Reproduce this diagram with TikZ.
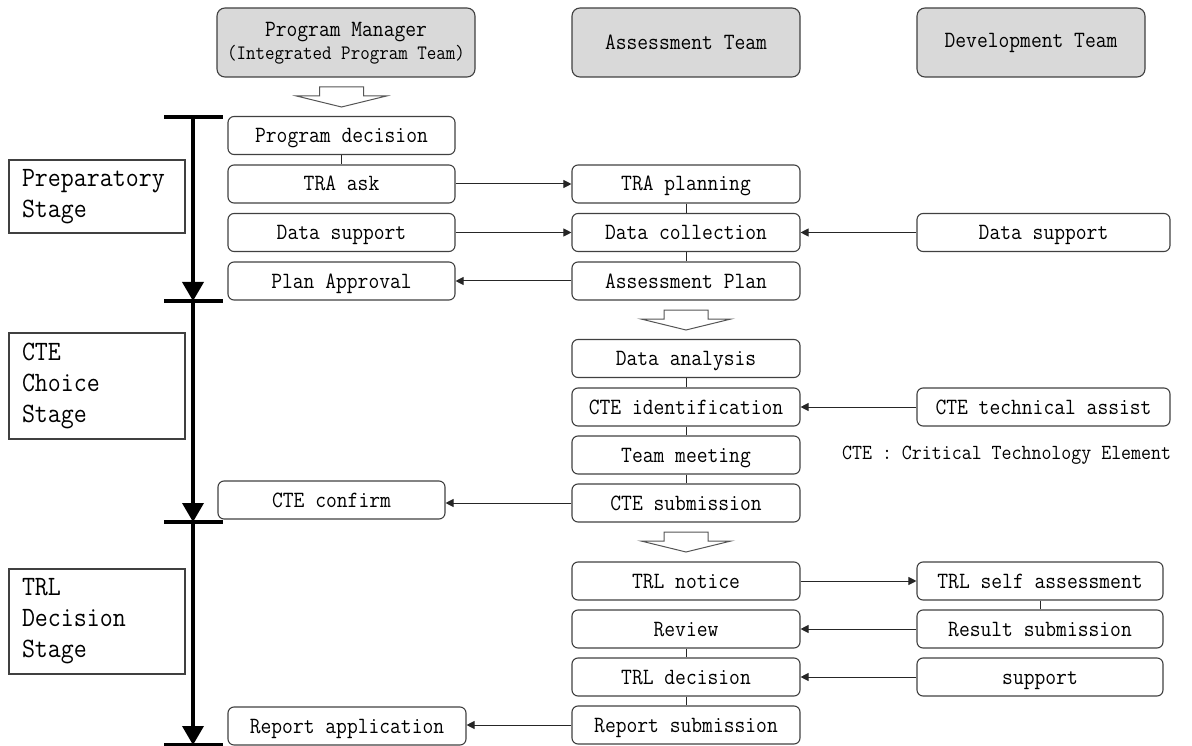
\documentclass[tikz,border=0pt]{standalone}
\usepackage{fontspec}
\setmonofont{Latin Modern Mono}[FakeStretch=0.9]
\usetikzlibrary{arrows.meta}
\definecolor{boxline}{HTML}{404040}
\definecolor{headfill}{HTML}{D9D9D9}
\definecolor{arrowline}{HTML}{555555}
% hollow block arrow: centre x, top y
\newcommand\hollowdown[2]{%
  \draw[blockarrow] (#1-22,#2) -- (#1+22,#2) -- (#1+22,#2+9) -- (#1+45,#2+9)
    -- (#1,#2+20) -- (#1-45,#2+9) -- (#1-22,#2+9) -- cycle;}
\tikzset{
  x=1pt, y=-1pt,
  every node/.style={font=\ttfamily\fontsize{23.3}{26}\selectfont, inner sep=0pt},
  stepbox/.style={draw=boxline, line width=1.1pt, rounded corners=6pt, minimum height=38pt,
    text height=16pt, text depth=2pt},
  colL/.style={stepbox, minimum width=227pt},
  colM/.style={stepbox, minimum width=228pt},
  colR/.style={stepbox, minimum width=253pt},
  colRs/.style={stepbox, minimum width=246pt},
  headbox/.style={draw=boxline, line width=1.1pt, rounded corners=8pt, fill=headfill,
    minimum height=69pt, minimum width=228pt},
  stagebox/.style={draw=boxline, line width=1.1pt, align=left, text width=150pt,
    inner xsep=13pt, font=\ttfamily\fontsize{28}{31}\selectfont},
  link/.style={draw=black!85, line width=1pt},
  flow/.style={link, -{Triangle[length=8pt,width=8pt]}},
  timeline/.style={line width=3.6pt, -{Triangle[length=19pt,width=21pt]}},
  tick/.style={line width=3.6pt},
  blockarrow/.style={draw=arrowline, line width=1pt, fill=white, line join=miter},
}
\begin{document}
\begin{tikzpicture}
\useasboundingbox (0,0) rectangle (1192,746);

% column headers
\node[headbox, minimum width=258pt] (hpm) at (346,42.5)
  {\begin{tabular}{@{}c@{}}Program Manager\\[-3pt]
   {\fontsize{20.5}{22}\selectfont(Integrated Program Team)}\end{tabular}};
\node[headbox] (hat) at (686,42.5) {Assessment Team};
\node[headbox] (hdt) at (1031,42.5) {Development Team};

% stages
\node[stagebox, minimum height=73pt] (sprep) at (97,196.5) {Preparatory\\Stage};
\node[stagebox, minimum height=106pt] (scte) at (97,386) {CTE\\Choice\\Stage};
\node[stagebox, minimum height=105pt] (strl) at (97,621.5) {TRL\\Decision\\Stage};

% time axis
\coordinate (t0) at (193,117);
\coordinate (t1) at (193,301);
\coordinate (t2) at (193,522);
\coordinate (t3) at (193,745);
\draw[timeline] (t0) -- (t1);
\draw[timeline] (t1) -- (t2);
\draw[timeline] (t2) -- (t3);
\foreach \t in {t0,t1,t2,t3}
  \draw[tick] ([xshift=-29pt]\t) -- ([xshift=30pt]\t);

% program manager column
\node[colL] (pd)  at (341.5,135.5) {Program decision};
\node[colL] (tra) at (341.5,184) {TRA ask};
\node[colL] (ds1) at (341.5,232.5) {Data support};
\node[colL] (pa)  at (341.5,281) {Plan Approval};
\node[colL] (cteconf) at (331.5,500) {CTE confirm};
\node[stepbox, minimum width=238pt] (repapp) at (347,726) {Report application};

% assessment team column
\node[colM] (trap)   at (686,184) {TRA planning};
\node[colM] (dcol)   at (686,232.5) {Data collection};
\node[colM] (ap)     at (686,281) {Assessment Plan};
\node[colM] (da)     at (686,358.5) {Data analysis};
\node[colM] (cteid)  at (686,407) {CTE identification};
\node[colM] (tm)     at (686,455) {Team meeting};
\node[colM] (ctesub) at (686,503) {CTE submission};
\node[colM] (trln)   at (686,581) {TRL notice};
\node[colM] (rev)    at (686,629) {Review};
\node[colM] (trld)   at (686,677) {TRL decision};
\node[colM] (repsub) at (686,725) {Report submission};

% development team column
\node[colR]  (ds2)    at (1043.5,232.5) {Data support};
\node[colR]  (cteta)  at (1043.5,407) {CTE technical assist};
\node[colRs] (trlsa)  at (1040,581) {TRL self assessment};
\node[colRs] (ressub) at (1040,629) {Result submission};
\node[colRs] (sup)    at (1040,677) {support};

\node[anchor=west, font=\ttfamily\fontsize{21.5}{24}\selectfont] (note) at (842,455)
  {CTE : Critical Technology Element};

% hollow phase arrows
\hollowdown{341.5}{87}
\hollowdown{686}{310}
\hollowdown{686}{532}

% vertical links
\draw[link] (pd.south) -- (tra.north);
\draw[link] (trap.south) -- (dcol.north);
\draw[link] (dcol.south) -- (ap.north);
\draw[link] (da.south) -- (cteid.north);
\draw[link] (cteid.south) -- (tm.north);
\draw[link] (tm.south) -- (ctesub.north);
\draw[link] (rev.south) -- (trld.north);
\draw[link] (trld.south) -- (repsub.north);
\draw[link] (trlsa.south) -- (ressub.north);

% horizontal flows
\draw[flow] (tra.east) -- (trap.west);
\draw[flow] (ds1.east) -- (dcol.west);
\draw[flow] (ds2.west) -- (dcol.east);
\draw[flow] (ap.west) -- (pa.east);
\draw[flow] (cteta.west) -- (cteid.east);
\draw[flow] (ctesub.west) -- (ctesub.west -| cteconf.east);
\draw[flow] (trln.east) -- (trlsa.west);
\draw[flow] (ressub.west) -- (rev.east);
\draw[flow] (sup.west) -- (trld.east);
\draw[flow] (repsub.west) -- (repsub.west -| repapp.east);
\end{tikzpicture}
\end{document}
